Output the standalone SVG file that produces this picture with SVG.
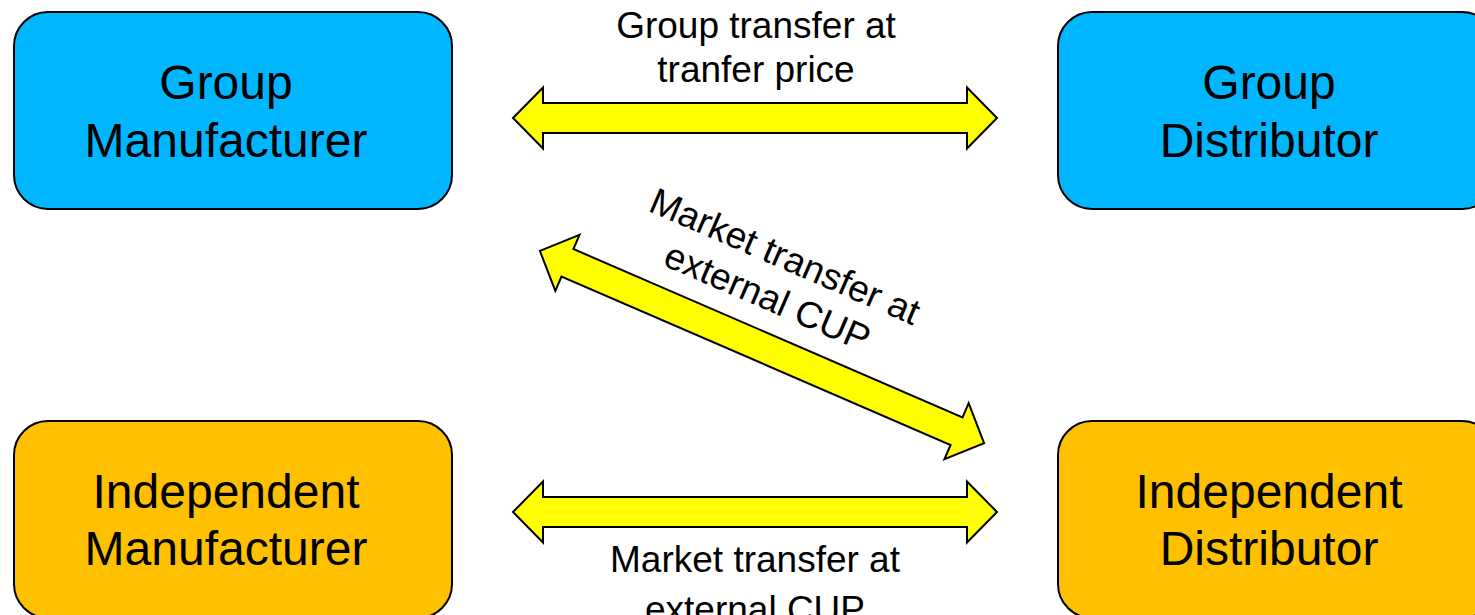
<svg xmlns="http://www.w3.org/2000/svg" width="1475" height="615" viewBox="0 0 1475 615">
  <style>
    .box { stroke: #000; stroke-width: 2; }
    .group { fill: #00B6FF; }
    .indep { fill: #FFC000; }
    .name { font-family: "Liberation Sans", Arial, sans-serif; font-size: 48px; fill: #000; text-anchor: middle; }
    .lbl { font-family: "Liberation Sans", Arial, sans-serif; font-size: 37px; fill: #000; text-anchor: middle; }
    .arrow { fill: #FFFF00; stroke: #000; stroke-width: 2; stroke-linejoin: miter; }
  </style>
  <defs>
    <!-- double-headed block arrow, centred on the origin -->
    <path id="dblArrow" d="M -242,0 L -212,-30.5 L -212,-15 L 212,-15 L 212,-30.5 L 242,0 L 212,30.5 L 212,15 L -212,15 L -212,30.5 Z"/>
  </defs>

  <rect width="1475" height="615" fill="#fff"/>

  <g id="connectors">
    <use href="#dblArrow" class="arrow" transform="translate(755,118)"/>
    <use href="#dblArrow" class="arrow" transform="translate(762,347) rotate(23.4)"/>
    <use href="#dblArrow" class="arrow" transform="translate(755,512)"/>
    <text class="lbl"><tspan x="756" y="38">Group transfer at</tspan><tspan x="756" y="82">tranfer price</tspan></text>
    <g transform="translate(780,268) rotate(23.4)">
      <text class="lbl"><tspan x="0" y="0">Market transfer at</tspan><tspan x="0" y="44">external CUP</tspan></text>
    </g>
    <text class="lbl"><tspan x="755" y="572">Market transfer at</tspan><tspan x="755" y="622">external CUP</tspan></text>
  </g>

  <g id="group-manufacturer">
    <rect class="box group" x="14" y="12" width="438" height="197" rx="34" ry="34"/>
    <text class="name"><tspan x="226" y="99">Group</tspan><tspan x="226" y="157">Manufacturer</tspan></text>
  </g>

  <g id="group-distributor">
    <rect class="box group" x="1058" y="12" width="438" height="197" rx="34" ry="34"/>
    <text class="name"><tspan x="1269" y="99">Group</tspan><tspan x="1269" y="157">Distributor</tspan></text>
  </g>

  <g id="independent-manufacturer">
    <rect class="box indep" x="14" y="421" width="438" height="197" rx="34" ry="34"/>
    <text class="name"><tspan x="226" y="508">Independent</tspan><tspan x="226" y="565">Manufacturer</tspan></text>
  </g>

  <g id="independent-distributor">
    <rect class="box indep" x="1058" y="421" width="438" height="197" rx="34" ry="34"/>
    <text class="name"><tspan x="1269" y="508">Independent</tspan><tspan x="1269" y="565">Distributor</tspan></text>
  </g>
</svg>
